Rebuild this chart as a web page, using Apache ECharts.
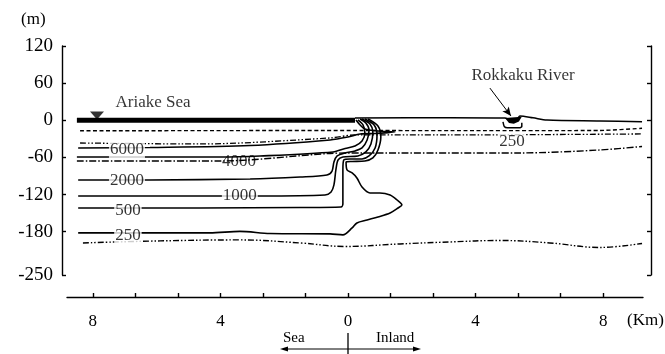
<!DOCTYPE html>
<html><head><meta charset="utf-8">
<script src="https://cdn.jsdelivr.net/npm/echarts@6/dist/echarts.min.js"></script>
<style>html,body{margin:0;padding:0;background:#fff}#c{width:665px;height:354px}</style>
</head><body><div id="c"></div>
<script>
// axis ticks / labels
const xTicks = [-8,-6.667,-5.333,-4,-2.667,-1.333,0,1.333,2.667,4,5.333,6.667,8];
const xLabels = [-8,-4,0,4,8];
const yTicks = [-250,-180,-120,-60,0,60,120];

// profile lines (x: km, negative = sea side; y: m)
const seaBottom = [[-8.5,0],[0.22,0]];
const ground = [[0.22,3.7],[3.2,4.2],[4.92,3.7],[5.1,1],[5.3,2],[5.39,6.9],[5.8,4],[6.24,0.4],[7.9,-1.1],[9.22,-2.3]];
const river = [[4.92,3.7],[5.05,-4.4],[5.2,-5.5],[5.36,-2],[5.45,5.5]];
const river250 = [[4.86,-2.7],[4.9,-10],[5.0,-12],[5.4,-12],[5.45,-10],[5.45,-4]];
const dashedLine = [[-8.4,-17],[0.22,-16.5],[3.2,-16.8],[7.9,-16.5],[9.22,-12.9]];
const dashDotUpper = [[-8.4,-36.7],[-4.64,-38.3],[-0.56,-28.6],[0.22,-23.7],[3.2,-23.7],[9.22,-22.1]];
const dashDotMid = [[-8.5,-65.8],[-4.01,-65.8],[-0.56,-53.6],[0.38,-52.8],[5.39,-52.8],[7.9,-48],[9.22,-42.3]];
const dashDotLower = [[-8.31,-198.2],[-5.89,-194.9],[-3.39,-193.3],[-1.5,-198.2],[-0.09,-203.9],[1.63,-199.8],[3.2,-196.6],[4.76,-194.2],[6.33,-198.2],[7.9,-205.5],[9.22,-199.0]];
const c6000 = [[-8.46,-44.7],[-6.21,-43.9],[-3.07,-40.7],[-0.56,-31.8],[0,-27.0],[0.38,-22.1],[0.85,-21.3],[1.47,-18.9],[0.94,-17.3],[0.53,-14.1],[0.38,-7.6],[0.25,0.5]];
const c4000 = [[-8.5,-59.3],[-4.01,-59.3],[-2.76,-57.7],[-0.47,-51.2],[-0.09,-45.6],[0.22,-41.5],[0.44,-33.4],[0.53,-20.5],[0.47,-7.6],[0.31,0.5]];
const c2000 = [[-8.46,-96.4],[-6.21,-96.4],[-3.07,-94.8],[-1.5,-91.6],[-0.66,-88.4],[-0.5,-82.0],[-0.44,-67.4],[-0.34,-57.7],[-0.09,-52.8],[0.22,-49.6],[0.44,-44.7],[0.6,-31.8],[0.66,-15.7],[0.56,-4.4],[0.38,2.1]];
const c1000 = [[-8.46,-122.3],[-2.76,-122.3],[-0.72,-120.7],[-0.53,-115.9],[-0.44,-104.5],[-0.38,-80.3],[-0.31,-64.1],[-0.16,-59.3],[0.31,-57.7],[0.56,-51.2],[0.72,-38.3],[0.78,-18.9],[0.69,-6.0],[0.44,2.1]];
const c500 = [[-8.46,-141.7],[-4.64,-141.7],[-1.5,-140.9],[-0.22,-140.1],[-0.16,-135.2],[-0.16,-80.3],[-0.13,-64.1],[0.06,-62.5],[0.44,-62.5],[0.66,-57.7],[0.85,-44.7],[0.91,-23.7],[0.82,-7.6],[0.53,2.1]];
const c250 = [[-8.46,-182],[-4.33,-182],[-3.39,-179.5],[-2.45,-182.9],[-0.56,-183.6],[-0.16,-185.2],[0.13,-174.0],[0.28,-165.9],[0.6,-161.1],[0.94,-156.2],[1.32,-149.8],[1.57,-141.7],[1.69,-136.8],[1.54,-128.8],[1.32,-120.7],[1.0,-117.4],[0.69,-117.4],[0.44,-107.8],[0.28,-93.2],[0.13,-85.1],[-0.03,-80.3],[-0.06,-67.4],[0.13,-66.6],[0.53,-65.8],[0.78,-60.9],[0.94,-48.0],[1.03,-27.0],[0.94,-9.2],[0.63,2.1]];

// annotations
const contourLabels = [[-6.93,-48,'6000'],[-3.42,-66.5,'4000'],[-6.93,-98,'2000'],[-3.39,-122.3,'1000'],[-6.9,-146.6,'500'],[-6.9,-186.8,'250'],[5.14,-33.6,'250']];
const noBgLabels = ['4000'];
const placeLabels = [[-6.11,27.9,'Ariake Sea'],[5.49,71.5,'Rokkaku River']];
const riverArrow = [[4.45,52],[5.11,6.9]];
const waterLevel = [[-7.87,7.8]];

const FONT = "'Liberation Serif', 'DejaVu Serif', serif";
const K = '#000';

function lineS(data, width, type, smooth) {
  return {type:'line', data, showSymbol:false, symbol:'none', smooth: smooth||0, silent:true,
    lineStyle:{color:K, width, type: type||'solid', cap:'butt'}, z:3};
}

const chart = echarts.init(document.getElementById('c'), null, {renderer:'canvas'});
chart.setOption({
  animation:false,
  backgroundColor:'#fff',
  grid:{left:67, right:22, top:46, bottom:79},
  xAxis:{type:'value', min:-8.81, max:9.25, position:'bottom', offset:22,
    axisLine:{show:true, onZero:false, lineStyle:{color:K, width:1.4}},
    axisTick:{show:true, inside:true, length:4, customValues:xTicks, lineStyle:{color:K, width:1.4}},
    axisLabel:{show:true, customValues:xLabels, formatter:v=>String(Math.abs(Math.round(v))), margin:16, fontSize:17, fontFamily:FONT, color:K},
    splitLine:{show:false}},
  yAxis:[
    {type:'value', min:-250, max:120, position:'left', offset:5,
      axisLine:{show:true, onZero:false, lineStyle:{color:K, width:1.4}},
      axisTick:{show:true, inside:true, length:4, customValues:yTicks, lineStyle:{color:K, width:1.4}},
      axisLabel:{show:true, customValues:yTicks, margin:9, fontSize:19, fontFamily:FONT, color:K},
      splitLine:{show:false}},
    {type:'value', min:-250, max:120, position:'right', offset:8,
      axisLine:{show:true, onZero:false, lineStyle:{color:K, width:1.4}},
      axisTick:{show:true, inside:true, length:4, customValues:yTicks, lineStyle:{color:K, width:1.4}},
      axisLabel:{show:false}, splitLine:{show:false}}
  ],
  series:[
    lineS(seaBottom, 5),
    lineS(ground, 1.5, 'solid', 0.3),
    lineS(dashedLine, 1.4, [4,2.5], 0.2),
    lineS(dashDotUpper, 1.3, [6,2,1.5,2,1.5,2], 0.3),
    lineS(dashDotMid, 1.4, [7,2,1.5,2], 0.3),
    lineS(dashDotLower, 1.4, [6,2,1.5,2,1.5,2], 0.4),
    lineS(c6000, 1.6, 'solid', 0.3),
    lineS(c4000, 1.6, 'solid', 0.3),
    lineS(c2000, 1.6, 'solid', 0.3),
    lineS(c1000, 1.6, 'solid', 0.3),
    lineS(c500, 1.6, 'solid', 0.3),
    lineS(c250, 1.6, 'solid', 0.3),
    lineS(river250, 1.5, 'solid', 0.2),
    {type:'custom', silent:true, z:4, data:[0],
      renderItem:(params, api)=>({type:'polygon', shape:{points: river.map(p=>api.coord(p))}, style:{fill:K}})},
    {type:'line', data:[], silent:true, z:4,
      markLine:{silent:true, animation:false, symbol:['none','arrow'], symbolSize:[6,9],
        label:{show:false}, lineStyle:{color:K, width:1, type:'solid'},
        data:[[{coord:riverArrow[0]},{coord:riverArrow[1]}]]}},
    {type:'scatter', data:waterLevel, silent:true, symbol:'triangle', symbolRotate:180, symbolSize:[14,8],
      itemStyle:{color:K}, z:5},
    {type:'scatter', silent:true, z:6, symbolSize:0,
      data: contourLabels.map(d=>({value:[d[0],d[1]], name:d[2],
        label: noBgLabels.includes(d[2]) ? {backgroundColor:'transparent'} : {}})),
      label:{show:true, position:'inside', formatter:p=>p.name, fontSize:17, fontFamily:FONT, color:K,
        backgroundColor:'#fff', padding:[0,1]}},
    {type:'scatter', silent:true, z:6, symbolSize:0,
      data: placeLabels.map(d=>({value:[d[0],d[1]], name:d[2]})),
      label:{show:true, position:'inside', formatter:p=>p.name, fontSize:17, fontFamily:FONT, color:K}}
  ],
  graphic:[
    {type:'text', left:21, top:11, style:{text:'(m)', font:"17px "+FONT, fill:K}},
    {type:'text', left:627, top:312, style:{text:'(Km)', font:"17px "+FONT, fill:K}},
    {type:'text', left:283, top:331, style:{text:'Sea', font:"15px "+FONT, fill:K}},
    {type:'text', left:376, top:331, style:{text:'Inland', font:"15px "+FONT, fill:K}},
    {type:'line', shape:{x1:283, y1:349, x2:418, y2:349}, style:{stroke:K, lineWidth:1}},
    {type:'line', shape:{x1:348, y1:333, x2:348, y2:354}, style:{stroke:K, lineWidth:1.3}},
    {type:'polygon', shape:{points:[[280,349],[288,346.5],[288,351.5]]}, style:{fill:K}},
    {type:'polygon', shape:{points:[[421,349],[413,346.5],[413,351.5]]}, style:{fill:K}}
  ]
});
</script></body></html>
